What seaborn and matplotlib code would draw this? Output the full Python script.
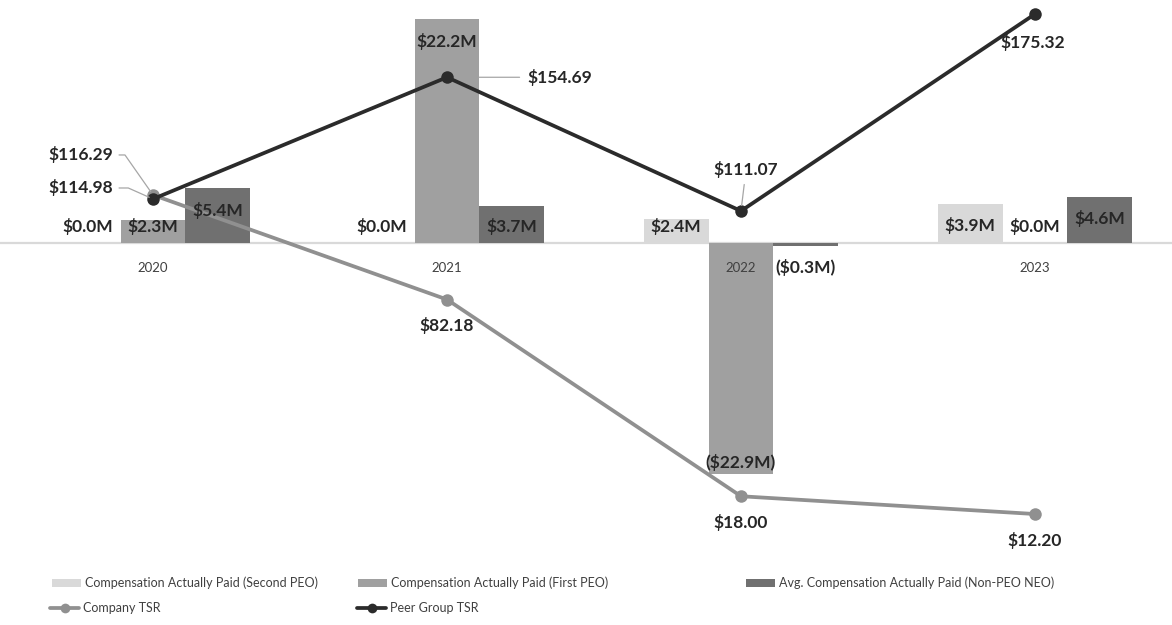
import numpy as np
import pandas as pd
import matplotlib
matplotlib.use("Agg")
import matplotlib.pyplot as plt
import seaborn as sns
from matplotlib.patches import Patch
from matplotlib.lines import Line2D

# ---------------- data ----------------
years = ["2020", "2021", "2022", "2023"]
second_peo = [0.0, 0.0, 2.4, 3.9]
first_peo = [2.3, 22.2, -22.9, 0.0]
non_peo_neo = [5.4, 3.7, -0.3, 4.6]
company_tsr = [116.29, 82.18, 18.00, 12.20]
peer_tsr = [114.98, 154.69, 111.07, 175.32]
bar_series = ["Compensation Actually Paid (Second PEO)",
              "Compensation Actually Paid (First PEO)",
              "Avg. Compensation Actually Paid (Non-PEO NEO)"]
tsr_series = ["Company TSR", "Peer Group TSR"]

# ---------------- style ----------------
bar_colors = ["#d9d9d9", "#a0a0a0", "#707070"]
company_color = "#909090"
peer_color = "#2b2b2b"
label_color = "#262626"
text_gray = "#404040"
leader_color = "#a6a6a6"

sns.set_theme(style="white")
plt.rcParams["font.family"] = ["Lato", "DejaVu Sans"]

W, H = 1172, 625
fig = plt.figure(figsize=(W / 100, H / 100), dpi=100)
ax = fig.add_axes([0, 1 - 560 / H, 1, 560 / H])

df = pd.DataFrame({"year": years,
                   bar_series[0]: second_peo,
                   bar_series[1]: first_peo,
                   bar_series[2]: non_peo_neo})
long = df.melt(id_vars="year", var_name="series", value_name="value")

sns.barplot(data=long, x="year", y="value", hue="series", order=years,
            hue_order=bar_series, palette=bar_colors, width=0.663,
            saturation=1, linewidth=0, legend=False, ax=ax, zorder=2)

ax.axhline(0, color="#d9d9d9", lw=1.6, zorder=1)
ax.set_xlim(-0.5204, 3.466)
ax.set_ylim(-31.39, 24.06)

# ---------------- TSR lines ----------------
ax2 = ax.twinx()
xpos = np.arange(len(years))
sns.lineplot(x=xpos, y=company_tsr, ax=ax2, color=company_color, lw=2.7,
             marker="o", markersize=9, markeredgewidth=0, legend=False)
sns.lineplot(x=xpos, y=peer_tsr, ax=ax2, color=peer_color, lw=2.7,
             marker="o", markersize=9, markeredgewidth=0, legend=False)
ax2.set_ylim(-2.8, 179.9)
ax.set_xlim(-0.5204, 3.466)

for a in (ax, ax2):
    a.set_xticks([])
    a.set_yticks([])
    a.set_xlabel("")
    a.set_ylabel("")
    for s in a.spines.values():
        s.set_visible(False)
ax.patch.set_alpha(0)

# bar value labels (drawn on the top layer, in bar data coordinates)
for container, vals in zip(ax.containers, [second_peo, first_peo, non_peo_neo]):
    for patch, v in zip(container.patches, vals):
        xc = patch.get_x() + patch.get_width() / 2
        if v >= 0:
            y = max(v - 2.2, 1.6)
            txt = f"${v:.1f}M"
        else:
            y = min(v + 1.2, -2.4)
            txt = f"(${-v:.1f}M)"
        ax2.text(xc, y, txt, ha="center", va="center", fontsize=12.5,
                 fontweight="bold", color=label_color, zorder=5,
                 transform=ax.transData)

# year labels just under the zero line
for i, yr in enumerate(years):
    ax.annotate(yr, xy=(i, 0), xytext=(0, -25), textcoords="offset pixels",
                ha="center", va="center", fontsize=9.5, color=text_gray, zorder=5)

lab = dict(fontsize=12.5, fontweight="bold", color=label_color,
           textcoords="offset pixels", zorder=6)

# company TSR labels
ax2.annotate(f"${company_tsr[0]:.2f}", xy=(0, company_tsr[0]), xytext=(-40, 40),
             ha="right", va="center",
             arrowprops=dict(arrowstyle="-", color=leader_color, lw=0.9,
                             shrinkA=2, shrinkB=3,
                             connectionstyle="angle,angleA=0,angleB=125,rad=0"),
             **lab)
for i in range(1, len(years)):
    ax2.annotate(f"${company_tsr[i]:.2f}", xy=(i, company_tsr[i]), xytext=(0, -26),
                 ha="center", va="center", **lab)

# peer TSR labels
ax2.annotate(f"${peer_tsr[0]:.2f}", xy=(0, peer_tsr[0]), xytext=(-40, 11),
             ha="right", va="center",
             arrowprops=dict(arrowstyle="-", color=leader_color, lw=0.9,
                             shrinkA=2, shrinkB=3,
                             connectionstyle="angle,angleA=0,angleB=156,rad=0"),
             **lab)
ax2.annotate(f"${peer_tsr[1]:.2f}", xy=(1, peer_tsr[1]), xytext=(80, 0),
             ha="left", va="center",
             arrowprops=dict(arrowstyle="-", color=leader_color, lw=0.9,
                             shrinkA=3, shrinkB=23),
             **lab)
ax2.annotate(f"${peer_tsr[2]:.2f}", xy=(2, peer_tsr[2]), xytext=(5, 41),
             ha="center", va="center",
             arrowprops=dict(arrowstyle="-", color=leader_color, lw=0.9,
                             shrinkA=2, shrinkB=4),
             **lab)
ax2.annotate(f"${peer_tsr[3]:.2f}", xy=(3, peer_tsr[3]), xytext=(-2, -28),
             ha="center", va="center", **lab)

# ---------------- legend ----------------
entries = [
    (Patch(facecolor=bar_colors[0], lw=0), bar_series[0], 52, 583),
    (Patch(facecolor=bar_colors[1], lw=0), bar_series[1], 358, 583),
    (Patch(facecolor=bar_colors[2], lw=0), bar_series[2], 746, 583),
    (Line2D([], [], color=company_color, lw=2.7, marker="o", markersize=7,
            markeredgewidth=0), tsr_series[0], 50, 608),
    (Line2D([], [], color=peer_color, lw=2.7, marker="o", markersize=7,
            markeredgewidth=0), tsr_series[1], 357, 608),
]
for h, l, px, py in entries:
    fig.legend(handles=[h], labels=[l], loc="center left",
               bbox_to_anchor=(px / W, 1 - py / H), frameon=False,
               borderpad=0, borderaxespad=0, handlelength=2.35,
               handleheight=0.6, handletextpad=0.3, fontsize=9,
               labelcolor=text_gray)

fig.savefig("out.png", dpi=100, facecolor="white")
